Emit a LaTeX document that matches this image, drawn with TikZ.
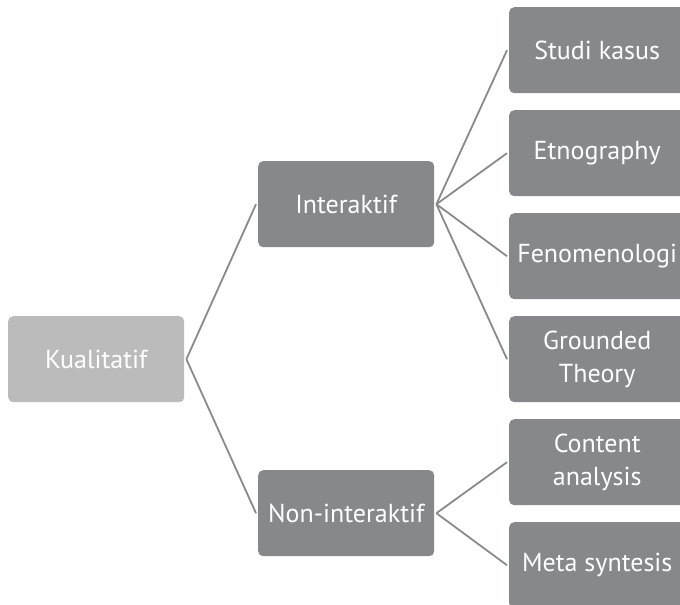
\documentclass[tikz,border=0pt]{standalone}
\usepackage{fontspec}
\setmainfont{PT Sans}
\begin{document}
\begin{tikzpicture}[x=1pt,y=-1pt,
  box/.style={rounded corners=5pt, minimum width=176pt, minimum height=86pt,
    inner sep=0pt, text=white, font=\fontsize{26}{33}\selectfont, align=center, anchor=north west},
  rootbox/.style={box, fill=rootgray},
  midbox/.style={box, fill=boxgray},
  leafbox/.style={box, fill=boxgray},
  link/.style={draw=linegray, line width=1.8pt}]
\definecolor{rootgray}{HTML}{BBBBBB}
\definecolor{boxgray}{HTML}{87888A}
\definecolor{linegray}{HTML}{8A8A8A}
\useasboundingbox (0,0) rectangle (680,605);
\clip (0,0) rectangle (680,605);
\fill[white] (0,0) rectangle (680,605);

\node[rootbox] (kual) at (8,316) {Kualitatif};
\node[midbox] (inter) at (258,161) {Interaktif};
\node[midbox] (non) at (258,470) {Non-interaktif};

\node[leafbox] (studi) at (509,7) {Studi kasus};
\node[leafbox] (etno) at (509,110) {Etnography};
\node[leafbox] (feno) at (509,213) {Fenomenologi};
\node[leafbox] (ground) at (509,316) {Grounded\\Theory};
\node[leafbox] (content) at (509,419) {Content\\analysis};
\node[leafbox] (meta) at (509,522) {Meta syntesis};

\draw[link] ([xshift=2pt]kual.east) -- ([xshift=-2pt]inter.west);
\draw[link] ([xshift=2pt]kual.east) -- ([xshift=-2pt]non.west);
\foreach \leaf in {studi,etno,feno,ground}
  \draw[link] ([xshift=2pt]inter.east) -- ([xshift=-2pt]\leaf.west);
\foreach \leaf in {content,meta}
  \draw[link] ([xshift=2pt]non.east) -- ([xshift=-2pt]\leaf.west);
\end{tikzpicture}
\end{document}
